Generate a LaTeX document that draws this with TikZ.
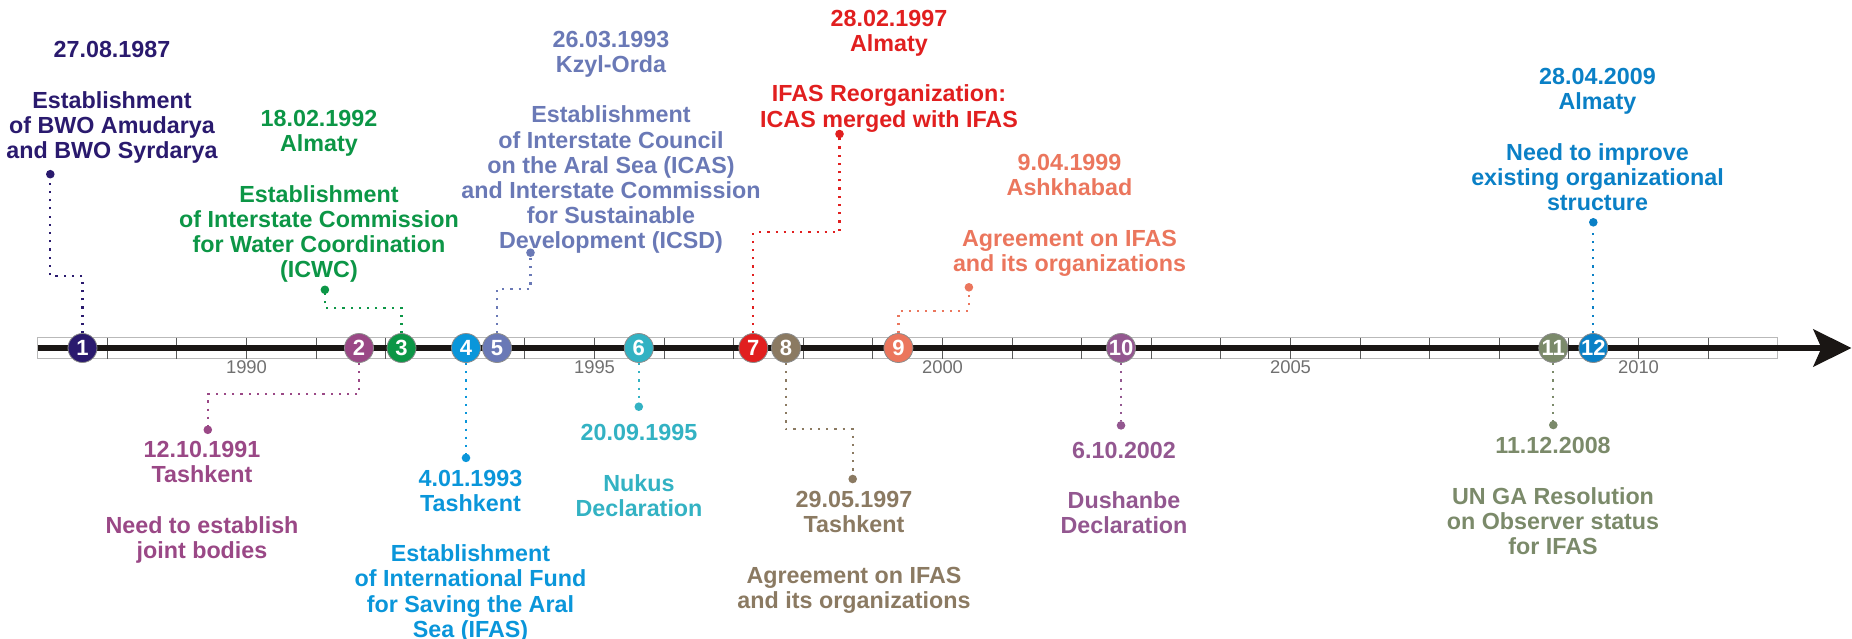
\documentclass[tikz,border=0pt]{standalone}
\usepackage{fontspec}
\setmainfont{Liberation Sans}
\usetikzlibrary{arrows.meta}
\definecolor{cA}{HTML}{2A1A6E}
\definecolor{cB}{HTML}{9A4886}
\definecolor{cC}{HTML}{0C9646}
\definecolor{cD}{HTML}{0A96DA}
\definecolor{cE}{HTML}{6A79B6}
\definecolor{cF}{HTML}{33B2C3}
\definecolor{cG}{HTML}{E11F1F}
\definecolor{cH}{HTML}{8B7A62}
\definecolor{cI}{HTML}{EB765D}
\definecolor{cJ}{HTML}{935790}
\definecolor{cK}{HTML}{7B8A6A}
\definecolor{cL}{HTML}{0A80C6}
\definecolor{yeargray}{HTML}{707070}
\definecolor{axisblack}{HTML}{1A1614}
\begin{document}
\begin{tikzpicture}[x=1pt,y=-1pt,
  evtxt/.style={anchor=north, align=center, inner sep=0pt, font=\bfseries\fontsize{23.3}{25.2}\selectfont},
  num/.style={circle, minimum size=29pt, inner sep=0pt, draw=black!45, line width=0.8pt, text=white, font=\bfseries\fontsize{22}{22}\selectfont},
  enddot/.style={circle, minimum size=8.6pt, inner sep=0pt},
  dotline/.style={line width=2.2pt, dash pattern=on 2.2pt off 6pt},
  yearlbl/.style={text=yeargray, inner sep=0pt, font=\fontsize{18.4}{18.4}\selectfont},
  axisline/.style={axisblack, line width=6.5pt, -{Stealth[length=38pt,width=37pt,inset=8pt]}}
]
\useasboundingbox (0,0) rectangle (1852,639);
% strip with yearly ticks
\draw[gray!55, line width=1.3pt, fill=white] (37.7,337.5) rectangle (1777.7,358.5);
\foreach \i in {1,...,24} \draw[black!65, line width=1pt] ({37.7+69.6*\i},337.5) -- ({37.7+69.6*\i},358.5);
% main axis
\coordinate (axs) at (37.7,348);
\coordinate (axe) at (1851.5,348);
\draw[axisline] (axs) -- (axe);
% year labels
\node[yearlbl] (y1990) at (246.5,367.5) {1990};
\node[yearlbl] (y1995) at (594.5,367.5) {1995};
\node[yearlbl] (y2000) at (942.5,367.5) {2000};
\node[yearlbl] (y2005) at (1290.5,367.5) {2005};
\node[yearlbl] (y2010) at (1638.5,367.5) {2010};
% event circles
\node[num, fill=cA] (n1) at (82.5,348) {1};
\node[num, fill=cB] (n2) at (359,348) {2};
\node[num, fill=cC] (n3) at (401.5,348) {3};
\node[num, fill=cD] (n4) at (466,348) {4};
\node[num, fill=cE] (n5) at (497,348) {5};
\node[num, fill=cF] (n6) at (638.8,348) {6};
\node[num, fill=cG] (n7) at (753.3,348) {7};
\node[num, fill=cH] (n8) at (786,348) {8};
\node[num, fill=cI] (n9) at (898.4,348) {9};
\node[num, fill=cJ] (n10) at (1121,348) {10};
\node[num, fill=cK] (n11) at (1553.3,348) {11};
\node[num, fill=cL] (n12) at (1593.3,348) {12};
% end dots
\node[enddot, fill=cA] (d1) at (50.3,174.2) {};
\node[enddot, fill=cB] (d2) at (207.8,429.8) {};
\node[enddot, fill=cC] (d3) at (324.9,289.8) {};
\node[enddot, fill=cD] (d4) at (466,457.9) {};
\node[enddot, fill=cE] (d5) at (530.5,252.7) {};
\node[enddot, fill=cF] (d6) at (638.8,406.7) {};
\node[enddot, fill=cG] (d7) at (839.5,134) {};
\node[enddot, fill=cH] (d8) at (852.7,479) {};
\node[enddot, fill=cI] (d9) at (968.9,287.3) {};
\node[enddot, fill=cJ] (d10) at (1121,425.4) {};
\node[enddot, fill=cK] (d11) at (1553.3,425) {};
\node[enddot, fill=cL] (d12) at (1593.3,222.3) {};
% corners of the dotted leaders
\coordinate (k1) at (50.3,276);
\coordinate (k2) at (207.8,394);
\coordinate (k3) at (324.9,308);
\coordinate (k5) at (530.5,289);
\coordinate (k7) at (839.5,232.3);
\coordinate (k8) at (852.7,429.3);
\coordinate (k9) at (968.9,310.7);
% dotted leaders
\draw[dotline, cA] (n1.north) |- (k1) -- (d1);
\draw[dotline, cB] (n2.south) |- (k2) -- (d2);
\draw[dotline, cC] (n3.north) |- (k3) -- (d3);
\draw[dotline, cD] (n4.south) -- (d4);
\draw[dotline, cE] (n5.north) |- (k5) -- (d5);
\draw[dotline, cF] (n6.south) -- (d6);
\draw[dotline, cG] (n7.north) |- (k7) -- (d7);
\draw[dotline, cH] (n8.south) |- (k8) -- (d8);
\draw[dotline, cI] (n9.north) |- (k9) -- (d9);
\draw[dotline, cJ] (n10.south) -- (d10);
\draw[dotline, cK] (n11.south) -- (d11);
\draw[dotline, cL] (n12.north) -- (d12);
% event texts
\node[evtxt, text=cA] (t1) at (112,41.1) {27.08.1987\\[25.3pt]Establishment\\of BWO Amudarya\\and BWO Syrdarya};
\node[evtxt, text=cB] (t2) at (202,441.1) {12.10.1991\\Tashkent\\[25.3pt]Need to establish\\joint bodies};
\node[evtxt, text=cC] (t3) at (319,110.2) {18.02.1992\\Almaty\\[25.3pt]Establishment\\of Interstate Commission\\for Water Coordination\\(ICWC)};
\node[evtxt, text=cD] (t4) at (470.5,469.6) {4.01.1993\\Tashkent\\[25.3pt]Establishment\\of International Fund\\for Saving the Aral\\Sea (IFAS)};
\node[evtxt, text=cE] (t5) at (611,30.7) {26.03.1993\\Kzyl-Orda\\[25.3pt]Establishment\\of Interstate Council\\on the Aral Sea (ICAS)\\and Interstate Commission\\for Sustainable\\Development (ICSD)};
\node[evtxt, text=cF] (t6) at (639,424.1) {20.09.1995\\[25.3pt]Nukus\\Declaration};
\node[evtxt, text=cG] (t7) at (889,9.7) {28.02.1997\\Almaty\\[25.3pt]IFAS Reorganization:\\ICAS merged with IFAS};
\node[evtxt, text=cH] (t8) at (854,491.1) {29.05.1997\\Tashkent\\[25.3pt]Agreement on IFAS\\and its organizations};
\node[evtxt, text=cI] (t9) at (1069.5,154.1) {9.04.1999\\Ashkhabad\\[25.3pt]Agreement on IFAS\\and its organizations};
\node[evtxt, text=cJ] (t10) at (1124,441.7) {6.10.2002\\[25.3pt]Dushanbe\\Declaration};
\node[evtxt, text=cK] (t11) at (1553,437.4) {11.12.2008\\[25.3pt]UN GA Resolution\\on Observer status\\for IFAS};
\node[evtxt, text=cL] (t12) at (1597.5,68.1) {28.04.2009\\Almaty\\[25.3pt]Need to improve\\existing organizational\\structure};
\end{tikzpicture}
\end{document}
